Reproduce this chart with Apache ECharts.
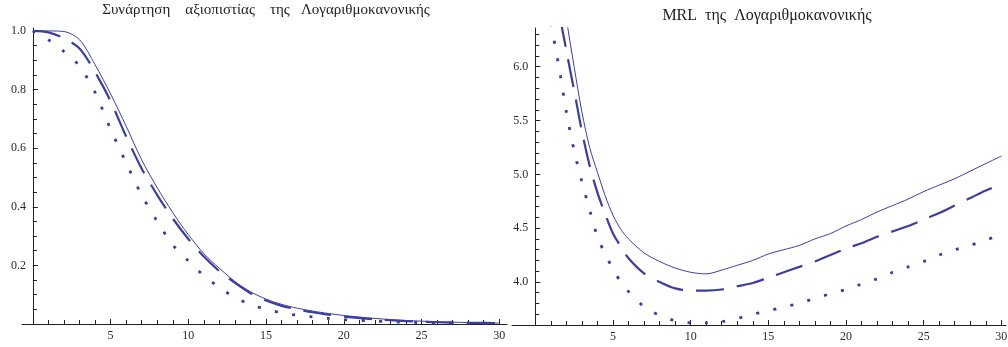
<!DOCTYPE html>
<html>
<head>
<meta charset="utf-8">
<script src="https://cdn.jsdelivr.net/npm/echarts@6/dist/echarts.min.js"></script>
<style>
html, body { margin: 0; padding: 0; background: #fff; }
#main { width: 1008px; height: 347px; }
</style>
</head>
<body>
<div id="main"></div>
<script>
// left: reliability function
const relX      = [0, 1, 2, 3, 4, 5, 6, 7, 8, 9, 10, 11, 12, 13, 14, 15, 16, 17, 18, 19, 20, 22, 24, 26, 28, 30]
const relSolid  = [1.0, 1.0, 0.998, 0.97, 0.885, 0.785, 0.675, 0.56, 0.465, 0.38, 0.305, 0.24, 0.19, 0.145, 0.11, 0.085, 0.067, 0.054, 0.044, 0.036, 0.029, 0.019, 0.012, 0.008, 0.005, 0.003]
const relDashed = [1.0, 0.995, 0.975, 0.94, 0.86, 0.76, 0.64, 0.53, 0.44, 0.36, 0.29, 0.23, 0.18, 0.14, 0.105, 0.08, 0.062, 0.05, 0.04, 0.032, 0.025, 0.016, 0.01, 0.006, 0.004, 0.003]
const relDotted = [1.0, 0.97, 0.93, 0.88, 0.79, 0.665, 0.55, 0.44, 0.35, 0.27, 0.215, 0.165, 0.125, 0.09, 0.067, 0.05, 0.038, 0.03, 0.024, 0.019, 0.015, 0.01, 0.006, 0.004, 0.003, 0.002]

// right: mean residual life
const mrlX      = [1, 1.5, 2, 2.5, 3, 3.5, 4, 4.5, 5, 5.5, 6, 7, 8, 9, 10, 11, 12, 13, 14, 15, 16, 17, 18, 19, 20, 21, 22, 23, 24, 25, 26, 27, 28, 29, 30]
const mrlSolid  = [7.6, 7.0, 6.45, 6.0, 5.58, 5.25, 5.02, 4.8, 4.62, 4.49, 4.4, 4.27, 4.19, 4.13, 4.09, 4.075, 4.11, 4.155, 4.2, 4.26, 4.3, 4.34, 4.4, 4.45, 4.52, 4.58, 4.65, 4.71, 4.77, 4.84, 4.9, 4.96, 5.03, 5.1, 5.17]
const mrlDashed = [7.2, 6.55, 6.15, 5.78, 5.4, 5.08, 4.83, 4.63, 4.45, 4.33, 4.22, 4.08, 4.0, 3.94, 3.92, 3.92, 3.93, 3.96, 3.99, 4.04, 4.09, 4.14, 4.19, 4.25, 4.31, 4.36, 4.42, 4.47, 4.52, 4.58, 4.64, 4.71, 4.78, 4.85, 4.91]
const mrlDotted = [6.4, 6.02, 5.58, 5.22, 4.93, 4.67, 4.42, 4.26, 4.12, 4.0, 3.91, 3.77, 3.69, 3.64, 3.62, 3.62, 3.63, 3.66, 3.7, 3.73, 3.77, 3.8, 3.85, 3.89, 3.93, 3.98, 4.03, 4.09, 4.14, 4.19, 4.25, 4.3, 4.34, 4.39, 4.44]

// tick labels
const xTicks    = [5, 10, 15, 20, 25, 30]
const relYTicks = [0.2, 0.4, 0.6, 0.8, 1.0]
const mrlYTicks = [4.0, 4.5, 5.0, 5.5, 6.0]

const color = '#3d3d9e'
const axisColor = '#222'
const labelFont = { fontFamily: 'Liberation Serif', fontSize: 12, color: '#2a2a2a' }

// plot boxes (pixels) and their value ranges
const L = { left: 22, width: 485, top: 28, height: 296, xmin: -0.7, xmax: 30.5, ymin: 0, ymax: 1.01 }
const R = { left: 512, width: 494, top: 28, height: 297, xmin: -1.5, xmax: 30.3, ymin: 3.6, ymax: 6.36 }

const xPx = (g, v) => g.left + (v - g.xmin) / (g.xmax - g.xmin) * g.width
const yPx = (g, v) => g.top + (g.ymax - v) / (g.ymax - g.ymin) * g.height

const grids = [], xAxes = [], yAxes = [], series = []

function pairs (xs, ys) { return xs.map((x, i) => [x, ys[i]]) }

// main plot: axis lines and curves
function plot (g, xs, a, b, c) {
  const gi = grids.length
  grids.push({ left: g.left, width: g.width, top: g.top, height: g.height, outerBoundsMode: 'none' })
  const line = { show: true, onZero: true, lineStyle: { color: axisColor, width: 1 } }
  xAxes.push({ type: 'value', gridIndex: gi, min: g.xmin, max: g.xmax, position: 'bottom',
    splitLine: { show: false }, axisLine: line, axisTick: { show: false }, axisLabel: { show: false } })
  yAxes.push({ type: 'value', gridIndex: gi, min: g.ymin, max: g.ymax, position: 'left',
    splitLine: { show: false }, axisLine: line, axisTick: { show: false }, axisLabel: { show: false } })
  const ai = xAxes.length - 1
  const common = { type: 'line', xAxisIndex: ai, yAxisIndex: ai, showSymbol: false, smooth: 0.3, clip: true, silent: true }
  series.push(
    Object.assign({}, common, { data: pairs(xs, a), lineStyle: { color, width: 1 } }),
    Object.assign({}, common, { data: pairs(xs, b), lineStyle: { color, width: 2.2, type: [28, 13] } }),
    Object.assign({}, common, { data: pairs(xs, c), lineStyle: { color, width: 2.8, type: [3, 14.5] } })
  )
}

// tick box: x ticks along its bottom edge, y ticks along its left edge
function ticks (g, x0, x1, xInt, y0, y1, yInt, len, xLabels, yLabels) {
  const gi = grids.length
  const left = xPx(g, x0), top = yPx(g, y1)
  grids.push({ left, top, width: xPx(g, x1) - left, height: yPx(g, y0) - top, outerBoundsMode: 'none' })
  const tick = { show: true, inside: true, length: len, lineStyle: { color: axisColor, width: 1 } }
  xAxes.push({ type: 'value', gridIndex: gi, min: x0, max: x1, interval: xInt || (x1 - x0), position: 'bottom',
    splitLine: { show: false }, axisLine: { show: false, onZero: false },
    axisTick: Object.assign({}, tick, { show: !!xInt }),
    axisLabel: xLabels ? Object.assign({ margin: 6, customValues: xLabels, formatter: v => String(v) }, labelFont) : { show: false } })
  yAxes.push({ type: 'value', gridIndex: gi, min: y0, max: y1, interval: yInt || (y1 - y0), position: 'left',
    splitLine: { show: false }, axisLine: { show: false, onZero: false },
    axisTick: Object.assign({}, tick, { show: !!yInt }),
    axisLabel: yLabels ? Object.assign({ margin: 7, customValues: yLabels, formatter: v => v.toFixed(1) }, labelFont) : { show: false } })
}

plot(L, relX, relSolid, relDashed, relDotted)
plot(R, mrlX, mrlSolid, mrlDashed, mrlDotted)

ticks(L, 0, 30, 5, 0, 1, 0.2, 5, xTicks, relYTicks)
ticks(L, 0, 30, 1, 0, 1, 0.05, 4)
ticks(R, 0, 30, 5, 3.6, 6, 0, 5, xTicks)
ticks(R, 0, 30, 1, 3.6, 6.3, 0.1, 4)
ticks(R, 0, 30, 0, 4, 6, 0.5, 5, null, mrlYTicks)

const chart = echarts.init(document.getElementById('main'))
chart.setOption({
  animation: false,
  title: [
    { text: 'Συνάρτηση    αξιοπιστίας    της   Λογαριθμοκανονικής', left: 266, top: 3, padding: 0, textAlign: 'center',
      textStyle: { fontFamily: 'Liberation Serif', fontSize: 15, fontWeight: 'normal', color: '#222' } },
    { text: 'MRL  της  Λογαριθμοκανονικής', left: 767, top: 8, padding: 0, textAlign: 'center',
      textStyle: { fontFamily: 'Liberation Serif', fontSize: 16, fontWeight: 'normal', color: '#222' } }
  ],
  grid: grids,
  xAxis: xAxes,
  yAxis: yAxes,
  series
})
</script>
</body>
</html>
